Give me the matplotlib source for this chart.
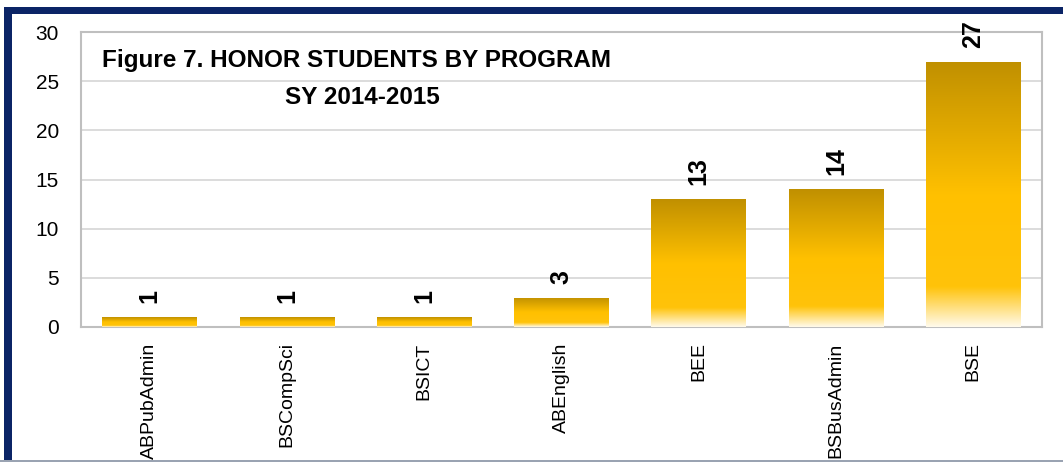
import matplotlib as mpl
mpl.use('Agg')
import matplotlib.pyplot as plt
import numpy as np
from matplotlib.colors import LinearSegmentedColormap
from matplotlib.patches import Rectangle

programs = ['ABPubAdmin', 'BSCompSci', 'BSICT', 'ABEnglish', 'BEE', 'BSBusAdmin', 'BSE']
honor_students = [1, 1, 1, 3, 13, 14, 27]
title_lines = ['Figure 7. HONOR STUDENTS BY PROGRAM', 'SY 2014-2015']

font = 'Liberation Sans'

W, H = 1063, 462
fig = plt.figure(figsize=(W / 100, H / 100), dpi=100)
ax = fig.add_axes([81 / W, 1 - 327 / H, (1042 - 81) / W, (327 - 32) / H])

# gold gradient, top -> bottom of each bar
gold = LinearSegmentedColormap.from_list('gold', [
    (0.0, '#C09000'), (0.5, '#FFC000'), (0.85, '#FFC30A'), (1.0, '#FFFAEA')])
grad = np.linspace(0, 1, 256).reshape(-1, 1)

x = np.arange(len(programs))
bars = ax.bar(x, honor_students, width=0.69, facecolor='none', edgecolor='none', zorder=3)
for b in bars:
    x0, w, h = b.get_x(), b.get_width(), b.get_height()
    im = ax.imshow(grad, cmap=gold, aspect='auto', extent=(x0, x0 + w, 0, h),
                   origin='upper', zorder=3, interpolation='bilinear')
    im.set_clip_path(b)

for xi, v in zip(x, honor_students):
    ax.annotate(str(v), (xi, v), xytext=(0, 10), textcoords='offset points',
                rotation=90, ha='center', va='bottom', fontsize=18,
                fontweight='bold', family=font)

ax.set_xlim(-0.5, len(programs) - 0.5)
ax.set_ylim(0, 30)
ax.set_yticks(range(0, 31, 5))
ax.set_xticks(x)
ax.set_xticklabels(programs, rotation=90, family=font, fontsize=14)
for lab in ax.get_yticklabels():
    lab.set_family(font)
    lab.set_fontsize(15)
ax.tick_params(axis='both', length=0)
ax.tick_params(axis='x', pad=11)
ax.tick_params(axis='y', pad=16)
ax.grid(axis='y', color='#D9D9D9', linewidth=1.3, zorder=0)
ax.set_axisbelow(True)
for s in ax.spines.values():
    s.set_color('#BFBFBF')
    s.set_linewidth(1.5)

fig.text(357 / W, 1 - 60 / H, title_lines[0], ha='center', va='center',
         fontsize=17.5, fontweight='bold', family=font)
fig.text(362 / W, 1 - 98 / H, title_lines[1], ha='center', va='center',
         fontsize=17.5, fontweight='bold', family=font)

# navy frame (left and top) and thin bottom line
navy = '#0B2466'
fig.patches.append(Rectangle((4 / W, 0), 8 / W, 1 - 7 / H, transform=fig.transFigure,
                             facecolor=navy, edgecolor='none'))
fig.patches.append(Rectangle((4 / W, 1 - 14 / H), 1 - 4 / W, 7 / H, transform=fig.transFigure,
                             facecolor=navy, edgecolor='none'))
fig.patches.append(Rectangle((0, 0), 1, 2 / H, transform=fig.transFigure,
                             facecolor='#9AA3B2', edgecolor='none'))

fig.savefig('out.png', dpi=100)
